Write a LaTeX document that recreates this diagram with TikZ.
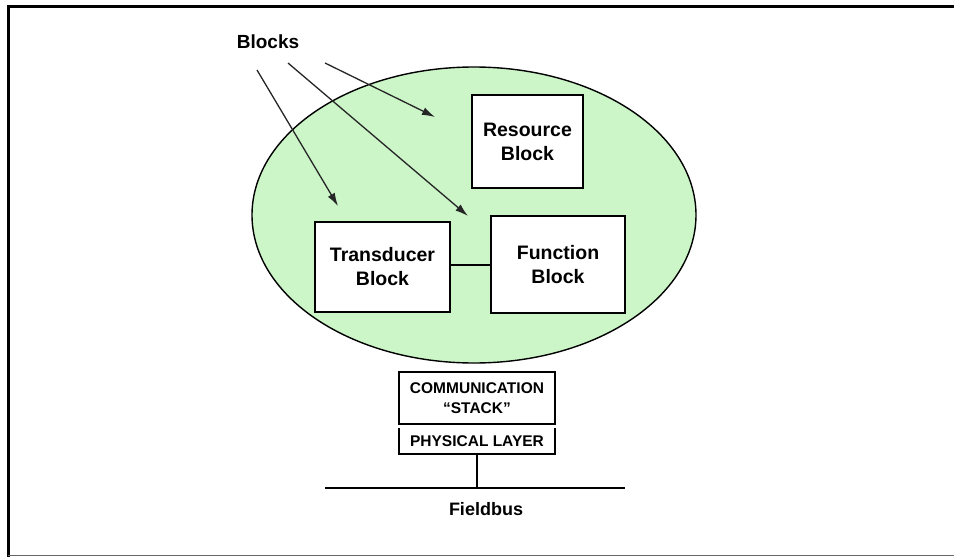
\documentclass[tikz,border=0pt]{standalone}
\usepackage{fontspec}
\setmainfont{Liberation Sans}
\usepackage{tikz}
\usetikzlibrary{shapes.geometric,arrows.meta}
\definecolor{devgreen}{RGB}{204,245,200}
\tikzset{blkbox/.style={draw, line width=2pt, fill=white, inner sep=0pt, align=center, font=\bfseries\fontsize{19.5}{24}\selectfont}}
\tikzset{blkarrow/.style={-{Latex[length=13pt, width=8pt]}, line width=1.3pt, draw=black!85}}
\tikzset{stackbox/.style={inner sep=0pt, align=center, minimum width=156pt, font=\bfseries\fontsize{15.5}{20}\selectfont}}

\begin{document}
\begin{tikzpicture}[x=1pt, y=-1pt]
\useasboundingbox (0,0) rectangle (954,557);
\draw[line width=3pt] (960,6) -- (8,6) -- (8,560);
\draw[line width=1.2pt, black!60] (8,555.5) -- (960,555.5);
\node[ellipse, draw, line width=1.4pt, fill=devgreen, minimum width=444pt, minimum height=296pt] (dev) at (474,215) {};
\node[blkbox, minimum width=111pt, minimum height=93pt] (res) at (527.5,141.5) {Resource\\Block};
\node[blkbox, minimum width=135pt, minimum height=90pt] (trd) at (382.5,267) {Transducer\\Block};
\node[blkbox, minimum width=134pt, minimum height=97pt] (fun) at (558,264.5) {Function\\Block};
\draw[line width=2pt] (trd.east |- 0,265) -- (fun.west |- 0,265);
\node[font=\bfseries\fontsize{19}{24}\selectfont] (blk) at (268,42) {Blocks};
\coordinate (a1) at (257,70);
\coordinate (a2) at (288,63);
\coordinate (a3) at (325,63);
\coordinate (t1) at (338,206);
\coordinate (t2) at (468,216);
\coordinate (t3) at (435,117);
\draw[blkarrow] (a1) -- (t1);
\draw[blkarrow] (a2) -- (t2);
\draw[blkarrow] (a3) -- (t3);
\node[stackbox, draw, line width=1.8pt, minimum height=52pt] (com) at (477,398) {COMMUNICATION\\“STACK”};
\node[stackbox, minimum height=26pt] (phy) at (477,441) {PHYSICAL LAYER};
\draw[line width=1.8pt] (phy.north west) -- (phy.south west) -- (phy.south east) -- (phy.north east);
\coordinate (busL) at (325,488);
\coordinate (busR) at (625,488);
\draw[line width=2pt] (busL) -- (busR);
\draw[line width=1.6pt] (phy.south) -- (phy.south |- busL);
\node[font=\bfseries\fontsize{18}{24}\selectfont] (fbus) at (486,509) {Fieldbus};
\end{tikzpicture}
\end{document}
